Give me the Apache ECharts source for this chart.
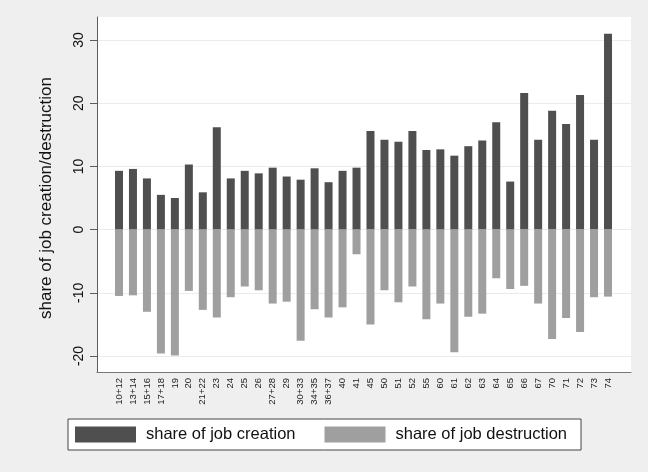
<!DOCTYPE html>
<html>
<head>
<meta charset="UTF-8">
<title>job creation / destruction</title>
<script src="https://cdn.jsdelivr.net/npm/echarts@6/dist/echarts.min.js"></script>
<style>
html, body { margin: 0; padding: 0; background: #efefef; }
#main { width: 648px; height: 472px; }
</style>
</head>
<body>
<div id="main"></div>
<script>
// 行业代码
var sectors = ['10+12', '13+14', '15+16', '17+18', '19', '20', '21+22', '23', '24', '25', '26', '27+28',
	'29', '30+33', '34+35', '36+37', '40', '41', '45', '50', '51', '52', '55', '60', '61', '62', '63',
	'64', '65', '66', '67', '70', '71', '72', '73', '74'];
// share of job creation
var creation = [9.3, 9.6, 8.1, 5.5, 5.0, 10.3, 5.9, 16.2, 8.1, 9.3, 8.9, 9.8,
	8.4, 7.9, 9.7, 7.5, 9.3, 9.8, 15.6, 14.2, 13.9, 15.6, 12.6, 12.7, 11.7, 13.2, 14.1,
	17.0, 7.6, 21.6, 14.2, 18.8, 16.7, 21.3, 14.2, 31.0];
// share of job destruction
var destruction = [-10.5, -10.4, -13.0, -19.6, -19.9, -9.7, -12.7, -13.9, -10.7, -9.0, -9.6, -11.7,
	-11.4, -17.6, -12.6, -13.9, -12.3, -3.9, -15.0, -9.6, -11.5, -9.0, -14.2, -11.7, -19.4, -13.8, -13.3,
	-7.7, -9.4, -8.9, -11.7, -17.3, -14.0, -16.2, -10.7, -10.6];
var yTicks = [-20, -10, 0, 10, 20, 30];
// 绘图区的数值范围 (Stata 会在刻度外留白)
var yRange = [-22.53, 33.64];

var font = 'Liberation Sans, Arial, sans-serif';
var lineColor = '#5c5c5c';

var myChart = echarts.init(document.getElementById('main'));
var option = {
	backgroundColor: '#efefef',
	animation: false,
	textStyle: { fontFamily: font },
	grid: [
		// 白色绘图区
		{ left: 97, right: 17, top: 17, bottom: 100, show: true, backgroundColor: '#fff', borderWidth: 0 },
		// y 轴刻度和网格线
		{ left: 97, right: 17, top: 40, bottom: 116 },
		// 柱子
		{ left: 112, right: 33, top: 17, bottom: 100 }
	],
	legend: {
		left: 68,
		top: 419,
		padding: [7, 14, 7, 7],
		backgroundColor: '#fff',
		borderColor: '#444',
		borderWidth: 1,
		borderRadius: 0,
		itemWidth: 61,
		itemHeight: 16,
		itemGap: 29,
		icon: 'rect',
		textStyle: { fontSize: 16.5, color: '#111', padding: [0, 0, 0, 5] },
		data: ['share of job creation', 'share of job destruction']
	},
	xAxis: [
		{
			gridIndex: 0, type: 'value', min: 0, max: 1,
			axisLine: { show: true, onZero: false, lineStyle: { color: '#777', width: 1 } },
			axisTick: { show: false }, axisLabel: { show: false }, splitLine: { show: false }
		},
		{ gridIndex: 1, type: 'value', min: 0, max: 1, show: false },
		{
			gridIndex: 2, type: 'category', data: sectors,
			axisLine: { show: false, onZero: false }, axisTick: { show: false },
			axisLabel: { interval: 0, rotate: 90, margin: 6, fontSize: 9.5, color: '#222' }
		}
	],
	yAxis: [
		{
			gridIndex: 0, type: 'value', min: 0, max: 1,
			axisLine: { show: true, lineStyle: { color: lineColor, width: 1 } },
			axisTick: { show: false }, axisLabel: { show: false }, splitLine: { show: false }
		},
		{
			gridIndex: 1, type: 'value',
			min: yTicks[0], max: yTicks[yTicks.length - 1], interval: 10,
			name: 'share of job creation/destruction',
			nameLocation: 'middle',
			nameGap: 42,
			nameTextStyle: { fontSize: 17, color: '#111' },
			axisLine: { show: false },
			axisTick: { show: true, length: 7, lineStyle: { color: lineColor } },
			axisLabel: { rotate: 90, margin: 11, fontSize: 14, color: '#111' },
			splitLine: { show: true, lineStyle: { color: '#ebebeb', width: 1 } }
		},
		{
			gridIndex: 2, type: 'value',
			min: yRange[0], max: yRange[1], show: false
		}
	],
	series: [
		{
			name: 'share of job creation', type: 'bar', stack: 'jc',
			xAxisIndex: 2, yAxisIndex: 2, barWidth: 8,
			itemStyle: { color: '#4f4f4f' },
			data: creation
		},
		{
			name: 'share of job destruction', type: 'bar', stack: 'jc',
			xAxisIndex: 2, yAxisIndex: 2, barWidth: 8,
			itemStyle: { color: '#9f9f9f' },
			data: destruction
		}
	]
};
myChart.setOption(option);
</script>
</body>
</html>
